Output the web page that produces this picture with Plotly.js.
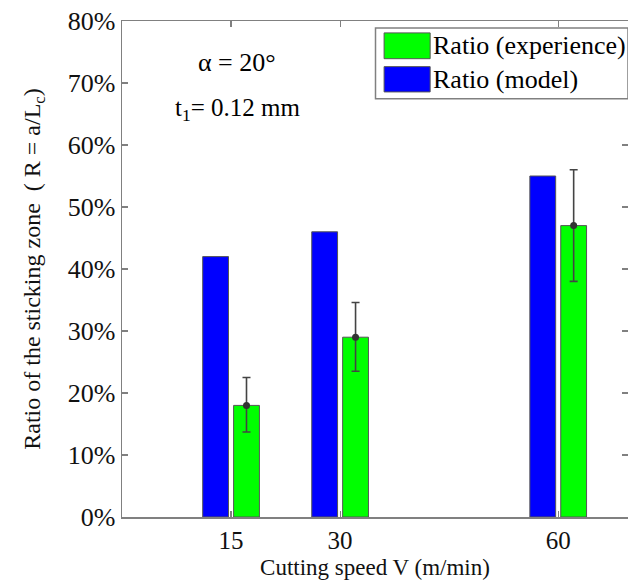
<!DOCTYPE html>
<html>
<head>
<meta charset="utf-8">
<script src="https://cdn.plot.ly/plotly-3.0.1.min.js"></script>
<style>
  html, body { margin: 0; padding: 0; overflow: hidden; background: #fff; }
  #chart { width: 628px; height: 583px; }
</style>
</head>
<body>
<div id="chart"></div>
<script>
// ---- data ----
const speeds = [15, 30, 60];                 // Cutting speed V (m/min)
const ratioModel = [0.42, 0.46, 0.55];       // Ratio (model)
const ratioExp = [0.18, 0.29, 0.47];         // Ratio (experience)
const errPlus = [0.045, 0.056, 0.09];
const errMinus = [0.043, 0.055, 0.09];
const yTickVals = [0, 0.1, 0.2, 0.3, 0.4, 0.5, 0.6, 0.7, 0.8];
const legendLabels = ['Ratio (experience)', 'Ratio (model)'];

const FONT = '"Liberation Serif", "Times New Roman", Times, serif';
const BLUE = '#0000ff', GREEN = '#00ff00', EDGE = '#555555', AX = '#808080';

const barW = 3.55, blueOff = -3.9, greenOff = 0.35;
const greenCenter = greenOff + barW / 2;

const traces = [
  {
    type: 'bar', name: legendLabels[1], x: speeds, y: ratioModel,
    width: barW, offset: blueOff,
    marker: { color: BLUE, line: { color: EDGE, width: 1 } },
    showlegend: false, hoverinfo: 'x+y'
  },
  {
    type: 'bar', name: legendLabels[0], x: speeds, y: ratioExp,
    width: barW, offset: greenOff,
    marker: { color: GREEN, line: { color: EDGE, width: 1 } },
    error_y: { type: 'data', symmetric: false, array: errPlus, arrayminus: errMinus,
               color: '#444444', thickness: 1.6, width: 4 },
    showlegend: false, hoverinfo: 'x+y'
  },
  {
    type: 'scatter', mode: 'markers', name: 'mean',
    x: speeds.map(v => v + greenCenter), y: ratioExp,
    marker: { color: '#333333', size: 7 },
    showlegend: false, hoverinfo: 'skip'
  }
];

// custom legend box (large swatches as in the reference)
const lgL = 0.501, lgR = 1.0, lgT = 0.986, lgB = 0.843;
const swL = 0.518, swR = 0.609;
const shapes = [
  { type: 'rect', xref: 'paper', yref: 'paper', x0: lgL, x1: lgR, y0: lgB, y1: lgT,
    line: { color: AX, width: 1.5 }, fillcolor: '#ffffff', layer: 'above' },
  { type: 'rect', xref: 'paper', yref: 'paper', x0: swL, x1: swR, y0: 0.924, y1: 0.976,
    line: { color: EDGE, width: 1 }, fillcolor: GREEN, layer: 'above' },
  { type: 'rect', xref: 'paper', yref: 'paper', x0: swL, x1: swR, y0: 0.857, y1: 0.908,
    line: { color: EDGE, width: 1 }, fillcolor: BLUE, layer: 'above' }
];

const annotations = [
  { xref: 'paper', yref: 'paper', x: 0.611, y: 0.950, xanchor: 'left', yanchor: 'middle',
    text: legendLabels[0], showarrow: false, font: { family: FONT, size: 26, color: '#000' } },
  { xref: 'paper', yref: 'paper', x: 0.611, y: 0.882, xanchor: 'left', yanchor: 'middle',
    text: legendLabels[1], showarrow: false, font: { family: FONT, size: 26, color: '#000' } },
  { xref: 'paper', yref: 'paper', x: 0.228, y: 0.917, xanchor: 'center', yanchor: 'middle',
    text: 'α = 20°', showarrow: false, font: { family: FONT, size: 26, color: '#000' } },
  { xref: 'paper', yref: 'paper', x: 0.228, y: 0.822, xanchor: 'center', yanchor: 'middle',
    text: 't<sub>1</sub>= 0.12 mm', showarrow: false, font: { family: FONT, size: 25, color: '#000' } }
];

const layout = {
  width: 628, height: 583,
  margin: { l: 122, r: 0, t: 21, b: 66 },
  paper_bgcolor: '#ffffff', plot_bgcolor: '#ffffff',
  font: { family: FONT, size: 24, color: '#000' },
  barmode: 'overlay',
  showlegend: false,
  xaxis: {
    range: [0, 69.6], tickvals: speeds, ticktext: speeds.map(String),
    ticks: 'inside', ticklen: 6, tickcolor: AX, tickwidth: 1.2,
    showline: true, linecolor: AX, linewidth: 1.5, mirror: 'ticks',
    showgrid: false, zeroline: false,
    tickfont: { family: FONT, size: 25, color: '#111' },
    title: { text: 'Cutting speed V (m/min)', font: { family: FONT, size: 23, color: '#111' }, standoff: 6 }
  },
  yaxis: {
    range: [0, 0.8], tickvals: yTickVals, tickformat: '.0%',
    ticks: 'inside', ticklen: 6, tickcolor: AX, tickwidth: 1.2,
    showline: true, linecolor: AX, linewidth: 1.5, mirror: 'ticks',
    showgrid: false, zeroline: false,
    tickfont: { family: FONT, size: 26, color: '#111' },
    title: { text: 'Ratio of the sticking zone  ( R = a/L<sub>c</sub>)', font: { family: FONT, size: 24, color: '#111' }, standoff: 20 }
  },
  shapes: shapes,
  annotations: annotations
};

Plotly.newPlot('chart', traces, layout, { displayModeBar: false, staticPlot: true });
</script>
</body>
</html>
